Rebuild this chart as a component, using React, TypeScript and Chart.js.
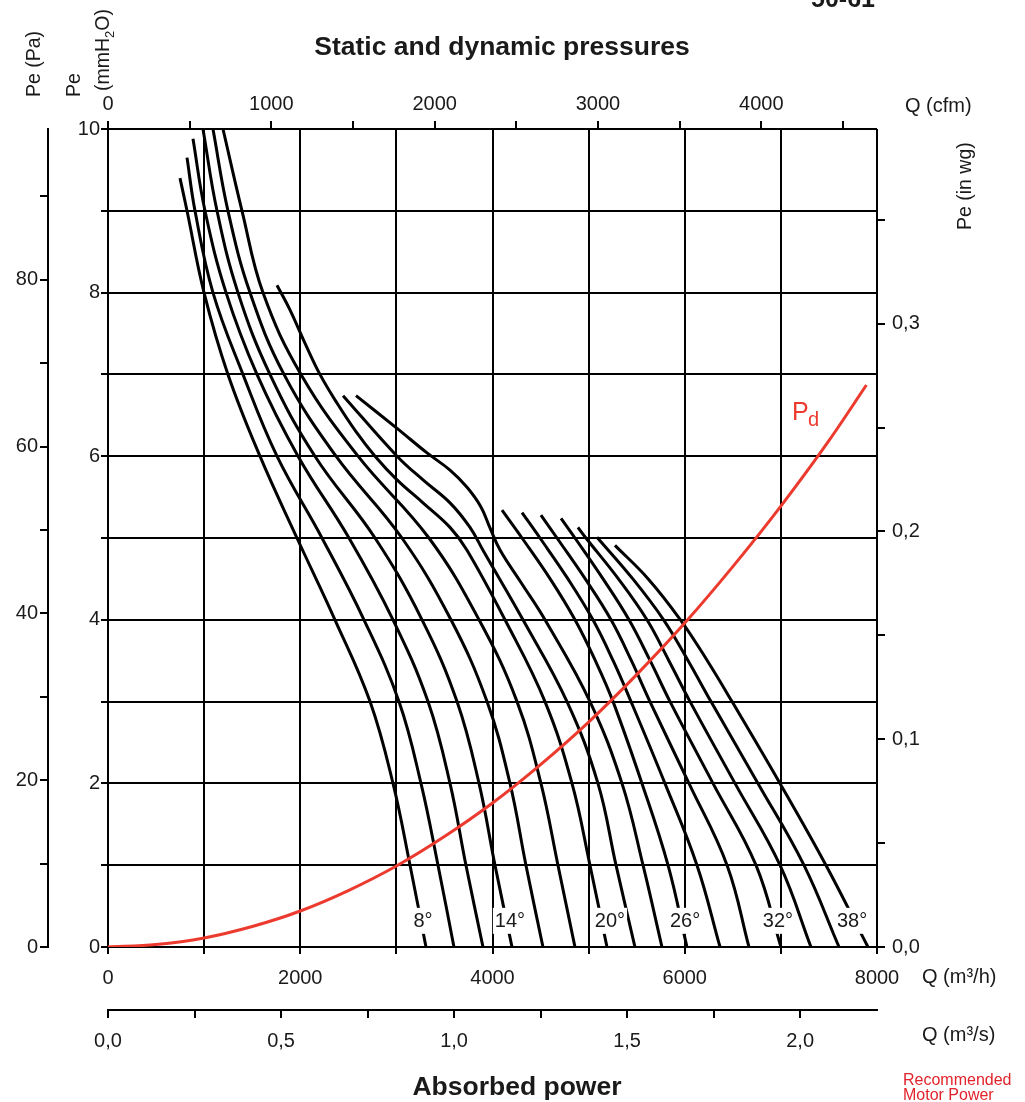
import React, { useEffect, useRef } from 'react';
import { Chart, registerables } from 'chart.js';

Chart.register(...registerables);

const FONT = '"Liberation Sans", Arial, Helvetica, sans-serif';
const INK = '#1a1a1a';
const RED = '#ec3a2e';
const RED_TEXT = '#e1232b';

// ---- Data: Q (m³/h) vs static pressure Pe (mmH2O), one curve per blade angle ----
const curve08 = [[749, 9.4], [822, 9.0], [999, 8.0], [1248, 7.0], [1581, 6.0], [1966, 5.0], [2361, 4.0], [2726, 3.0], [2965, 2.0], [3142, 1.0], [3308, 0]];
const curve10 = [[822, 9.65], [905, 9.0], [1092, 8.0], [1404, 7.0], [1758, 6.0], [2226, 5.0], [2663, 4.0], [3027, 3.0], [3256, 2.0], [3433, 1.0], [3599, 0]];
const curve12 = [[884, 9.88], [1009, 9.0], [1228, 8.0], [1550, 7.0], [1977, 6.0], [2507, 5.0], [2965, 4.0], [3329, 3.0], [3558, 2.0], [3724, 1.0], [3901, 0]];
const curve14 = [[988, 10], [1134, 9.0], [1352, 8.0], [1685, 7.0], [2153, 6.0], [2778, 5.0], [3267, 4.0], [3631, 3.0], [3860, 2.0], [4026, 1.0], [4203, 0]];
const curve16 = [[1092, 10], [1248, 9.0], [1477, 8.0], [1831, 7.0], [2372, 6.0], [3058, 5.0], [3568, 4.0], [3943, 3.0], [4182, 2.0], [4348, 1.0], [4525, 0]];
const curve18 = [[1196, 10], [1394, 9.0], [1612, 8.0], [2008, 7.0], [2601, 6.0], [3339, 5.0], [3860, 4.0], [4255, 3.0], [4504, 2.0], [4681, 1.0], [4858, 0]];
const curve20 = [[1758, 8.09], [1893, 7.79], [2050, 7.38], [2205, 7.0], [2382, 6.65], [2580, 6.3], [2778, 6.0], [3007, 5.71], [3277, 5.43], [3558, 5.13], [3735, 4.85], [4130, 4.0], [4546, 3.0], [4827, 2.0], [5014, 1.0], [5191, 0]];
const curve22 = [[2445, 6.74], [3007, 6.0], [3277, 5.71], [3558, 5.43], [3766, 5.13], [3901, 4.85], [4317, 4.0], [4775, 3.0], [5097, 2.0], [5285, 1.0], [5482, 0]];
const curve24 = [[2580, 6.74], [3007, 6.34], [3319, 6.04], [3558, 5.83], [3735, 5.62], [3880, 5.38], [3975, 5.12], [4080, 4.85], [4300, 4.45], [4546, 4.0], [5014, 3.0], [5347, 2.0], [5566, 1.0], [5763, 0]];
const curve26 = [[4099, 5.34], [4307, 5.0], [4600, 4.5], [4858, 4.0], [5070, 3.5], [5254, 3.0], [5555, 2.0], [5826, 1.0], [6023, 0]];
const curve28 = [[4307, 5.31], [4494, 5.0], [4785, 4.5], [5045, 4.0], [5255, 3.5], [5441, 3.0], [5794, 2.0], [6127, 1.0], [6367, 0]];
const curve30 = [[4504, 5.28], [4671, 5.0], [4965, 4.5], [5233, 4.0], [5445, 3.5], [5638, 3.0], [6044, 2.0], [6440, 1.0], [6668, 0]];
const curve32 = [[4713, 5.24], [4858, 5.0], [5150, 4.5], [5420, 4.0], [5640, 3.5], [5847, 3.0], [6294, 2.0], [6741, 1.0], [7001, 0]];
const curve34 = [[4889, 5.13], [4972, 5.0], [5310, 4.5], [5607, 4.0], [5835, 3.5], [6055, 3.0], [6523, 2.0], [6991, 1.0], [7313, 0]];
const curve36 = [[5087, 5.01], [5460, 4.5], [5780, 4.0], [6035, 3.5], [6273, 3.0], [6762, 2.0], [7240, 1.0], [7605, 0]];
const curve38 = [[5274, 4.91], [5620, 4.5], [5955, 4.0], [6235, 3.5], [6492, 3.0], [6991, 2.0], [7469, 1.0], [7906, 0]];

const bladeCurves = [curve08, curve10, curve12, curve14, curve16, curve18, curve20, curve22, curve24, curve26, curve28, curve30, curve32, curve34, curve36, curve38];

// Dynamic pressure Pd (mmH2O)
const pdQ = [0, 500, 1000, 1500, 2000, 2500, 3000, 3500, 4000, 4500, 5000, 5500, 6000, 6500, 7000, 7500, 7890];
const pdPe = [0, 0.03, 0.11, 0.25, 0.44, 0.69, 0.99, 1.35, 1.76, 2.23, 2.75, 3.33, 3.96, 4.65, 5.39, 6.19, 6.87];

// Angle labels on curves
const angleLabels = ['8°', '14°', '20°', '26°', '32°', '38°'];
const angleLabelQ = [3277, 4182, 5222, 6003, 6970, 7740];
const angleLabelPe = 0.32;

// Axes ticks
const qTicks = [0, 1000, 2000, 3000, 4000, 5000, 6000, 7000, 8000];
const peTicks = [0, 1, 2, 3, 4, 5, 6, 7, 8, 9, 10];
const paTicks = [0, 10, 20, 30, 40, 50, 60, 70, 80, 90];
const cfmTicks = [0, 500, 1000, 1500, 2000, 2500, 3000, 3500, 4000, 4500];
const m3sTicks = [0, 0.25, 0.5, 0.75, 1.0, 1.25, 1.5, 1.75, 2.0];
const inwgTicks = [0, 0.05, 0.1, 0.15, 0.2, 0.25, 0.3, 0.35];

const Q_MAX = 8000;
const PE_MAX = 10;
const PA_MAX = 98.07; // 10 mmH2O in Pa
const CFM_MAX = 4708.6; // 8000 m³/h in cfm
const M3S_MAX = 2.2222; // 8000 m³/h in m³/s
const INWG_MAX = 0.3937; // 10 mmH2O in in wg

const near = (v: number, step: number) => Math.abs(v / step - Math.round(v / step)) < 1e-6;
const comma1 = (v: number) => v.toFixed(1).replace('.', ',');

const tickFont = { family: FONT, size: 20 };

const textPlugin = {
  id: 'fanTexts',
  afterDatasetsDraw(chart: any) {
    const ctx = chart.ctx as CanvasRenderingContext2D;
    const xs = chart.scales.x;
    const ys = chart.scales.y;
    ctx.save();
    ctx.font = `20px ${FONT}`;
    ctx.textAlign = 'center';
    ctx.textBaseline = 'middle';
    angleLabels.forEach((t, i) => {
      const px = xs.getPixelForValue(angleLabelQ[i]);
      const py = ys.getPixelForValue(angleLabelPe);
      const w = ctx.measureText(t).width;
      ctx.fillStyle = '#ffffff';
      ctx.fillRect(px - w / 2 - 2, py - 13, w + 4, 26);
      ctx.fillStyle = INK;
      ctx.fillText(t, px, py + 1);
    });
    // P_d label
    ctx.fillStyle = RED;
    ctx.textAlign = 'left';
    ctx.textBaseline = 'alphabetic';
    ctx.font = `25px ${FONT}`;
    ctx.fillText('P', 792, 420);
    ctx.font = `20px ${FONT}`;
    ctx.fillText('d', 808, 426);
    ctx.restore();
  },
  afterDraw(chart: any) {
    const ctx = chart.ctx as CanvasRenderingContext2D;
    ctx.save();
    ctx.fillStyle = INK;
    ctx.textBaseline = 'alphabetic';
    ctx.textAlign = 'center';
    ctx.font = `bold 26.5px ${FONT}`;
    ctx.fillText('Static and dynamic pressures', 502, 55);
    ctx.fillText('Absorbed power', 517, 1095);
    ctx.font = `bold 25px ${FONT}`;
    ctx.fillText('50-61', 843, 7);

    ctx.textAlign = 'left';
    ctx.font = `20px ${FONT}`;
    ctx.fillText('Q (cfm)', 905, 112);
    ctx.fillText('Q (m³/h)', 922, 983);
    ctx.fillText('Q (m³/s)', 922, 1041);

    const rot = (x: number, y: number, fn: () => void) => {
      ctx.save();
      ctx.translate(x, y);
      ctx.rotate(-Math.PI / 2);
      fn();
      ctx.restore();
    };
    ctx.font = `19.5px ${FONT}`;
    rot(40, 97, () => ctx.fillText('Pe (Pa)', 0, 0));
    rot(80, 97, () => ctx.fillText('Pe', 0, 0));
    rot(109, 91, () => {
      ctx.font = `19.5px ${FONT}`;
      ctx.fillText('(mmH', 0, 0);
      const w1 = ctx.measureText('(mmH').width;
      ctx.font = `13px ${FONT}`;
      ctx.fillText('2', w1, 5);
      const w2 = ctx.measureText('2').width;
      ctx.font = `19.5px ${FONT}`;
      ctx.fillText('O)', w1 + w2, 0);
    });
    rot(971, 230, () => ctx.fillText('Pe (in wg)', 0, 0));

    ctx.fillStyle = RED_TEXT;
    ctx.font = `16px ${FONT}`;
    ctx.fillText('Recommended', 903, 1085);
    ctx.fillText('Motor Power', 903, 1100);
    ctx.restore();
  },
};

export default function App() {
  const ref = useRef<HTMLCanvasElement>(null);

  useEffect(() => {
    const canvas = ref.current;
    if (!canvas) return;

    const datasets: any[] = [
      {
        label: 'Pd',
        data: pdQ.map((q, i) => ({ x: q, y: pdPe[i] })),
        borderColor: RED,
        borderWidth: 3,
        pointRadius: 0,
        fill: false,
        cubicInterpolationMode: 'monotone',
        xAxisID: 'x',
        yAxisID: 'y',
      },
      ...bladeCurves.map((c, i) => ({
        label: `${8 + 2 * i}°`,
        data: c.map(([q, pe]) => ({ x: q, y: pe })),
        borderColor: '#000000',
        borderWidth: 3,
        pointRadius: 0,
        fill: false,
        tension: 0.4,
        xAxisID: 'x',
        yAxisID: 'y',
      })),
    ];

    const chart = new Chart(canvas, {
      type: 'line',
      data: { datasets },
      options: {
        responsive: false,
        animation: false,
        devicePixelRatio: 1,
        events: [],
        layout: { padding: 0 },
        plugins: {
          legend: { display: false },
          tooltip: { enabled: false },
          title: { display: false },
        },
        scales: {
          x: {
            type: 'linear',
            position: 'bottom',
            weight: 0,
            min: 0,
            max: Q_MAX,
            afterBuildTicks: (s: any) => { s.ticks = qTicks.map((value) => ({ value })); },
            afterFit: (s: any) => { s.height = 63; },
            grid: { color: '#000', lineWidth: 2, tickLength: 7, drawTicks: true },
            border: { display: true, color: '#000', width: 2 },
            ticks: {
              autoSkip: false, maxRotation: 0, padding: 12, color: INK, font: tickFont,
              callback: (v: any) => (near(v, 2000) ? String(v) : ''),
            },
          },
          m3s: {
            type: 'linear',
            position: 'bottom',
            weight: 1,
            min: 0,
            max: M3S_MAX,
            afterBuildTicks: (s: any) => { s.ticks = m3sTicks.map((value) => ({ value })); },
            afterFit: (s: any) => { s.height = 92; },
            grid: { drawOnChartArea: false, color: '#000', lineWidth: 2, tickLength: 8 },
            border: { display: true, color: '#000', width: 2 },
            ticks: {
              autoSkip: false, maxRotation: 0, padding: 11, color: INK, font: tickFont,
              callback: (v: any) => (near(v, 0.5) ? comma1(v) : ''),
            },
          },
          cfm: {
            type: 'linear',
            position: 'top',
            min: 0,
            max: CFM_MAX,
            afterBuildTicks: (s: any) => { s.ticks = cfmTicks.map((value) => ({ value })); },
            afterFit: (s: any) => { s.height = 129; },
            grid: { drawOnChartArea: false, color: '#000', lineWidth: 2, tickLength: 8 },
            border: { display: false },
            ticks: {
              autoSkip: false, maxRotation: 0, padding: 5, color: INK, font: tickFont,
              callback: (v: any) => (near(v, 1000) ? String(v) : ''),
            },
          },
          y: {
            type: 'linear',
            position: 'left',
            weight: 0,
            min: 0,
            max: PE_MAX,
            afterBuildTicks: (s: any) => { s.ticks = peTicks.map((value) => ({ value })); },
            afterFit: (s: any) => { s.width = 60; },
            grid: { color: '#000', lineWidth: 2, tickLength: 7, drawTicks: true },
            border: { display: true, color: '#000', width: 2 },
            ticks: {
              autoSkip: false, padding: 1, color: INK, font: tickFont,
              callback: (v: any) => (near(v, 2) ? String(v) : ''),
            },
          },
          pa: {
            type: 'linear',
            position: 'left',
            weight: 1,
            min: 0,
            max: PA_MAX,
            afterBuildTicks: (s: any) => { s.ticks = paTicks.map((value) => ({ value })); },
            afterFit: (s: any) => { s.width = 48; },
            grid: { drawOnChartArea: false, color: '#000', lineWidth: 2, tickLength: 8 },
            border: { display: true, color: '#000', width: 2 },
            ticks: {
              autoSkip: false, padding: 2, color: INK, font: tickFont,
              callback: (v: any) => (near(v, 20) ? String(v) : ''),
            },
          },
          inwg: {
            type: 'linear',
            position: 'right',
            min: 0,
            max: INWG_MAX,
            afterBuildTicks: (s: any) => { s.ticks = inwgTicks.map((value) => ({ value })); },
            afterFit: (s: any) => { s.width = 148; },
            grid: { drawOnChartArea: false, color: '#000', lineWidth: 2, tickLength: 8 },
            border: { display: false },
            ticks: {
              autoSkip: false, padding: 7, color: INK, font: tickFont,
              callback: (v: any) => (near(v, 0.1) ? comma1(v) : ''),
            },
          },
        },
      } as any,
      plugins: [textPlugin],
    });

    return () => chart.destroy();
  }, []);

  return (
    <div style={{ position: 'absolute', left: 0, top: 0, width: 1025, height: 1102, background: '#ffffff' }}>
      <canvas ref={ref} width={1025} height={1102} style={{ display: 'block' }} />
    </div>
  );
}
